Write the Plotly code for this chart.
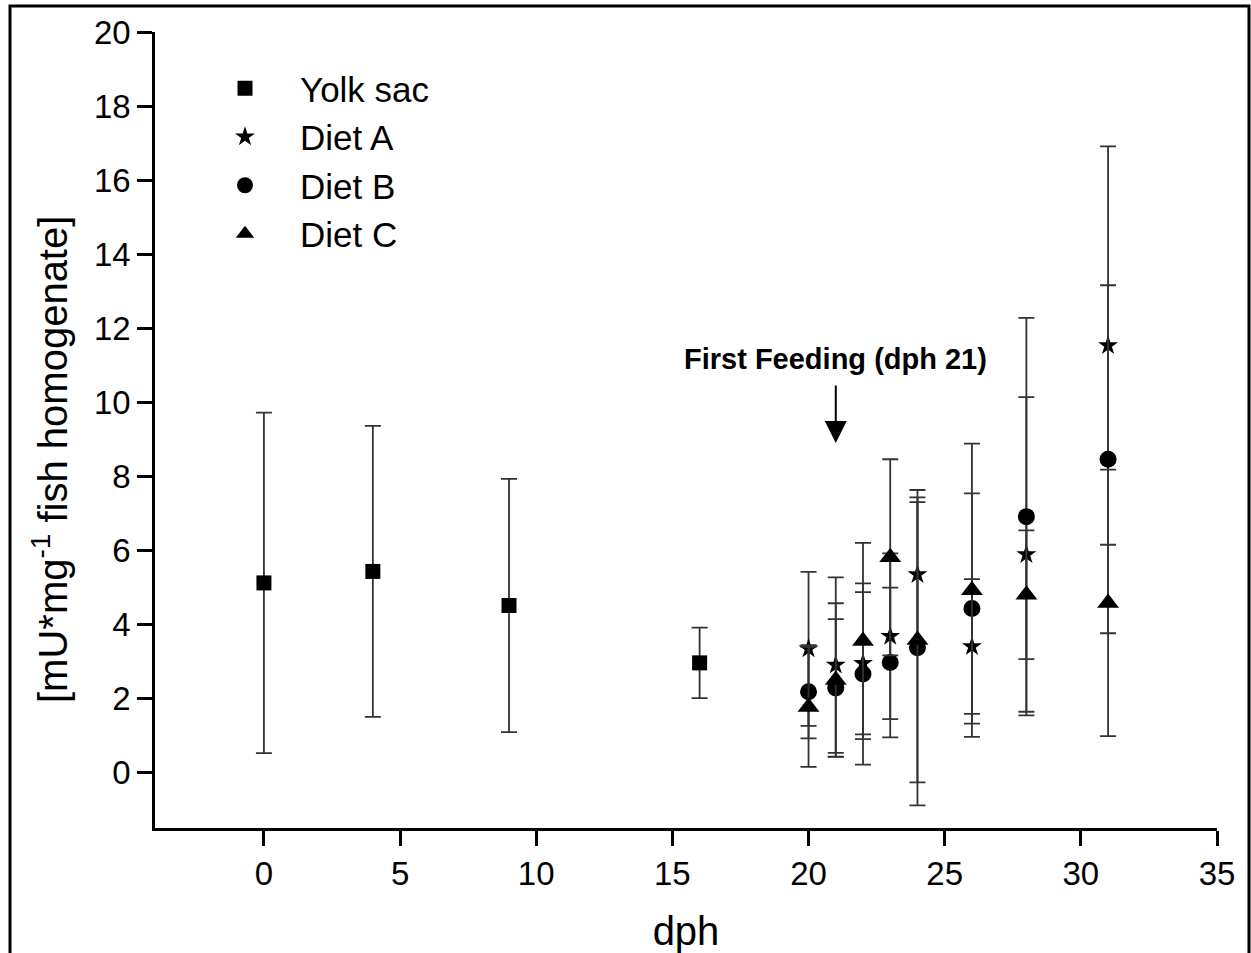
import plotly.graph_objects as go

# ---- data ----
yolk_days = [0, 4, 9, 16]
yolk_mean = [5.12, 5.43, 4.51, 2.96]
yolk_sd = [4.60, 3.93, 3.42, 0.95]

diet_days = [20, 21, 22, 23, 24, 26, 28, 31]
dietA_mean = [3.34, 2.90, 2.95, 3.68, 5.35, 3.40, 5.89, 11.53]
dietA_sd = [2.08, 2.37, 1.92, 2.24, 1.95, 1.82, 4.25, 5.38]
dietB_mean = [2.18, 2.28, 2.66, 2.97, 3.37, 4.43, 6.91, 8.46]
dietB_sd = [1.26, 1.86, 2.45, 2.02, 4.26, 3.11, 5.37, 4.70]
dietC_mean = [1.77, 2.50, 3.55, 5.81, 3.58, 4.92, 4.80, 4.58]
dietC_sd = [1.62, 2.07, 2.65, 2.65, 3.85, 3.96, 1.74, 3.60]

x_ticks = [0, 5, 10, 15, 20, 25, 30, 35]
y_ticks = [0, 2, 4, 6, 8, 10, 12, 14, 16, 18, 20]

first_feeding_day = 21
first_feeding_tip = 8.9
annot_text = "First Feeding (dph 21)"

FONT = "Arial, 'Liberation Sans', Helvetica, sans-serif"
ERR_COLOR = "#333333"

fig = go.Figure()

def add_series(name, xs, ys, sd, symbol, size):
    fig.add_trace(go.Scatter(
        x=xs, y=ys, name=name, mode="markers",
        marker=dict(symbol=symbol, size=size, color="black", line=dict(width=0)),
        error_y=dict(type="data", array=sd, visible=True, color=ERR_COLOR,
                     thickness=1.8, width=8),
    ))

add_series("Yolk sac", yolk_days, yolk_mean, yolk_sd, "square", 15)
add_series("Diet A", diet_days, dietA_mean, dietA_sd, "star", 15)
add_series("Diet B", diet_days, dietB_mean, dietB_sd, "circle", 17)
add_series("Diet C", diet_days, dietC_mean, dietC_sd, "triangle-up", 19)

W, H = 1251, 953
ML, MR, MT, MB = 155, 34, 32, 125
pw, ph = W - ML - MR, H - MT - MB

def px_x(px):
    return (px - ML) / pw

def px_y(py):
    return (H - MB - py) / ph

fig.update_layout(
    width=W, height=H,
    margin=dict(l=ML, r=MR, t=MT, b=MB, pad=0, autoexpand=False),
    paper_bgcolor="white", plot_bgcolor="white",
    font=dict(family=FONT, color="black"),
    showlegend=True,
    legend=dict(
        x=px_x(190), y=px_y(59), xanchor="left", yanchor="top",
        font=dict(size=35, family=FONT, color="black"),
        bgcolor="rgba(0,0,0,0)", borderwidth=0,
        itemwidth=100, tracegroupgap=0,
    ),
    xaxis=dict(
        range=[-4, 35], tickmode="array", tickvals=x_ticks,
        showline=True, linecolor="black", linewidth=2.5,
        ticks="outside", ticklen=15, tickwidth=2.5, tickcolor="black",
        tickfont=dict(size=33, family=FONT, color="black"),
        showgrid=False, zeroline=False, mirror=False, automargin=False,
        title=dict(text="dph", font=dict(size=40, family=FONT, color="black"), standoff=28),
    ),
    yaxis=dict(
        range=[-1.5, 20], tickmode="array", tickvals=y_ticks,
        showline=True, linecolor="black", linewidth=2.5,
        ticks="outside", ticklen=15, tickwidth=2.5, tickcolor="black",
        tickfont=dict(size=33, family=FONT, color="black"),
        showgrid=False, zeroline=False, mirror=False, automargin=False,
    ),
    annotations=[
        dict(
            text="[mU*mg<sup>-1</sup> fish homogenate]",
            xref="paper", yref="paper", x=px_x(50), y=px_y(460),
            xanchor="center", yanchor="middle", textangle=-90, showarrow=False,
            font=dict(size=40, family=FONT, color="black"),
        ),
        dict(
            text="<b>" + annot_text + "</b>",
            xref="x", yref="y", x=first_feeding_day, y=first_feeding_tip,
            showarrow=True, ax=0, ay=-84, arrowhead=2, arrowsize=2.2,
            arrowwidth=2, arrowcolor="black", standoff=0, startstandoff=9,
            font=dict(size=29, family=FONT, color="black"),
        ),
    ],
    shapes=[
        dict(type="rect", xref="paper", yref="paper",
             x0=px_x(10), x1=px_x(1249), y0=px_y(1000), y1=px_y(6),
             line=dict(color="black", width=3), fillcolor="rgba(0,0,0,0)",
             layer="below"),
    ],
)

fig.write_html(
    "out.html",
    config={"displayModeBar": False},
    post_script="document.body.style.margin='0';document.body.style.overflow='hidden';",
)
